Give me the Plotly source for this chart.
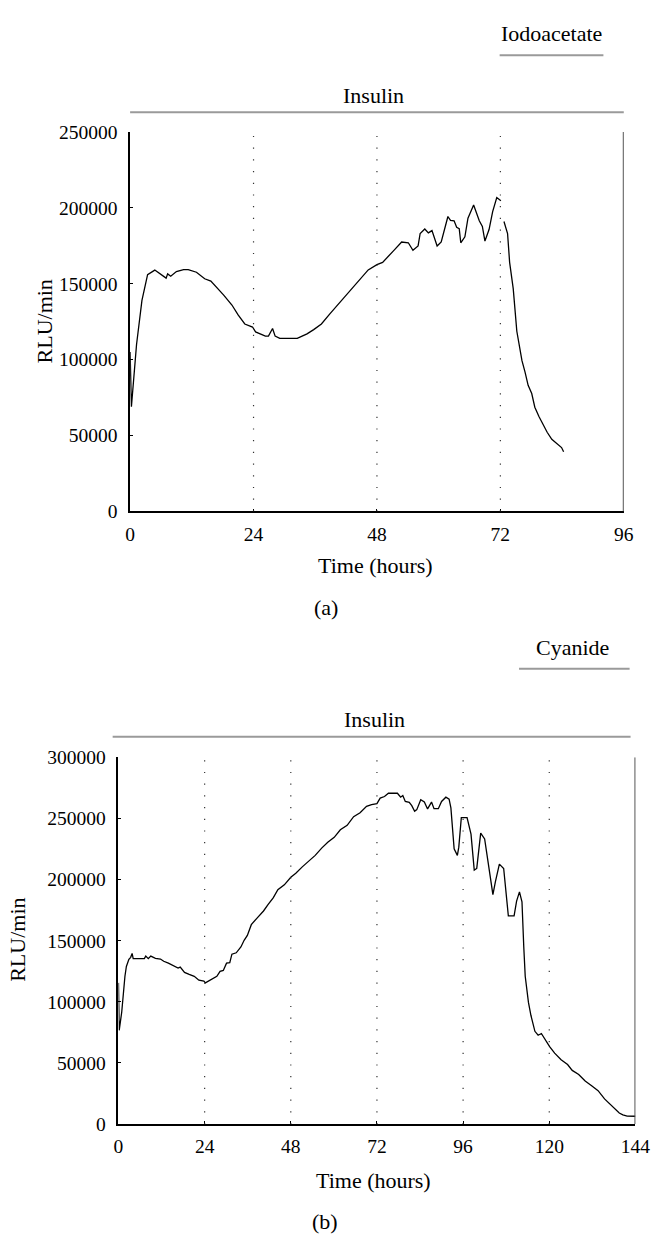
import plotly.graph_objects as go

# ---------------- Data ----------------
# Panel (a): insulin, then iodoacetate (trace interrupted at 72 h)
time_a_pre = [0, 0.25, 1.25, 2.3, 3.4, 4.8, 7.0, 7.3, 7.9, 9.0,
              10.4, 11.3, 12.9, 14.5, 15.7, 17.0, 18.2, 19.8, 21.0, 22.3,
              23.8, 24.4, 26.3, 26.9, 27.7, 28.2, 29.1, 32.5, 34.4, 35.7,
              37.2, 38.8, 40.6, 42.5, 44.4, 46.3, 48.0, 49.1, 51.3, 52.8,
              54.1, 55.0, 56.0, 56.4, 57.3, 58.0, 58.7, 59.7, 60.5, 61.8,
              62.3, 63.0, 63.5, 64.0, 64.3, 65.1, 65.7, 66.8, 67.9, 68.5,
              69.0, 69.8, 70.5, 71.3, 72.1]
rlu_a_pre = [105000, 69000, 110000, 139000, 156000, 159000, 153700, 156500, 155000, 158000,
             159300, 159300, 157600, 153300, 151800, 147200, 142500, 136000, 129500, 123500,
             121500, 118300, 115500, 115500, 120500, 115500, 114000, 114000, 117000, 119800,
             123500, 130000, 137000, 144200, 151100, 159100, 162600, 164100, 172000, 177500,
             177000, 172000, 174900, 183100, 186100, 183500, 185000, 174900, 177500, 194300,
             191700, 191500, 187200, 186300, 177000, 180900, 193200, 201900, 191500, 187800,
             178100, 185700, 197500, 206800, 204700]
time_a_post = [72.7, 73.4, 73.8, 74.5, 75.2, 76.2, 76.8, 77.4, 78.1, 78.7,
               79.5, 80.4, 81.1, 82.0, 82.9, 83.9, 84.3]
rlu_a_post = [191000, 183100, 164100, 146800, 118700, 99300, 91800, 83100, 77700, 68700,
              62600, 56100, 52200, 47500, 44900, 42100, 39300]

# Panel (b): insulin, then cyanide
time_b = [0, 0.2, 0.9, 1.1, 1.4, 1.8, 2.2, 2.9, 3.4, 3.8,
          4.1, 7.2, 7.6, 8.3, 9.0, 10.3, 11.7, 12.6, 13.9, 15.3,
          16.6, 17.2, 18.4, 19.7, 21.1, 22.4, 23.8, 24.2, 25.1, 26.5,
          27.4, 28.3, 29.2, 30.1, 31.0, 31.6, 32.8, 34.1, 35.0, 35.9,
          37.0, 38.6, 40.4, 41.7, 43.1, 44.4, 46.2, 48.0, 49.4, 51.2,
          53.0, 54.8, 56.6, 58.3, 60.1, 61.8, 63.7, 65.5, 67.3, 69.1,
          70.5, 72.0, 72.9, 74.1, 75.2, 77.7, 78.6, 79.2, 79.9, 81.0,
          81.7, 82.5, 83.1, 84.2, 85.2, 86.1, 87.2, 87.9, 89.1, 90.0,
          91.2, 92.1, 92.6, 93.5, 94.4, 94.8, 95.5, 97.1, 98.2, 99.1,
          99.8, 100.9, 102.0, 103.2, 104.3, 105.0, 106.1, 107.3, 108.2, 108.6,
          110.2, 110.9, 111.7, 112.4, 112.9, 113.3, 114.2, 114.9, 116.0, 116.9,
          117.8, 118.9, 120.1, 121.5, 123.3, 125.1, 126.4, 128.2, 130.0, 131.8,
          133.6, 135.4, 137.3, 138.4, 139.5, 140.5, 141.7, 144.0]
rlu_b = [115500, 76700, 91500, 100000, 107500, 120900, 128900, 134800, 136400, 139600,
         135300, 135300, 137400, 135300, 137400, 135600, 135000, 133200, 131600, 129400,
         127600, 128400, 124100, 122500, 120900, 117700, 116900, 115500, 116900, 119000,
         120900, 124900, 125700, 131600, 132100, 139000, 140100, 144900, 150300, 154300,
         163100, 168500, 174300, 179700, 185000, 191700, 195700, 201900, 205100, 210400,
         215300, 219800, 225700, 230500, 234500, 240700, 244400, 251400, 254600, 259900,
         261300, 262100, 266600, 267900, 270600, 270600, 267400, 268700, 263900, 263100,
         260400, 255900, 257200, 265300, 263400, 257800, 263400, 258000, 258000, 263900,
         267400, 265800, 258600, 225100, 219800, 226500, 250600, 250600, 237200, 207800,
         209100, 238000, 233200, 207800, 187700, 198400, 212600, 209100, 185000, 170300,
         170300, 182400, 189900, 181800, 144900, 120900, 99500, 88800, 75900, 72700,
         74100, 68700, 63400, 58000, 52700, 48700, 43900, 40600, 35300, 31300,
         27300, 20600, 15200, 12000, 9000, 7500, 6500, 6400]
assert len(time_b) == len(rlu_b)
assert len(time_a_pre) == len(rlu_a_pre) and len(time_a_post) == len(rlu_a_post)

ticks_x_a = [0, 24, 48, 72, 96]
ticks_y_a = [0, 50000, 100000, 150000, 200000, 250000]
ticks_x_b = [0, 24, 48, 72, 96, 120, 144]
ticks_y_b = [0, 50000, 100000, 150000, 200000, 250000, 300000]
dotted_a = [24, 48, 72]
dotted_b = [24, 48, 72, 96, 120]

# ---------------- Layout helpers ----------------
W, H = 664, 1258
FONT = "Liberation Serif"
FS_TICK = 19.5
FS_TEXT = 22


def px(x):
    return x / W


def py(y):
    return 1 - y / H


fig = go.Figure()
line_style = dict(color="black", width=1.3)
fig.add_trace(go.Scatter(x=time_a_pre, y=rlu_a_pre, mode="lines", line=line_style,
                         xaxis="x", yaxis="y", showlegend=False))
fig.add_trace(go.Scatter(x=time_a_post, y=rlu_a_post, mode="lines", line=line_style,
                         xaxis="x", yaxis="y", showlegend=False))
fig.add_trace(go.Scatter(x=time_b, y=rlu_b, mode="lines", line=line_style,
                         xaxis="x2", yaxis="y2", showlegend=False))

axis_common = dict(showgrid=False, zeroline=False, showline=True, linecolor="black",
                   linewidth=1.5, ticks="inside", ticklen=3, tickcolor="black",
                   tickfont=dict(family=FONT, size=FS_TICK, color="black"))

fig.update_layout(
    width=W, height=H,
    margin=dict(l=0, r=0, t=0, b=0),
    paper_bgcolor="white", plot_bgcolor="white",
    xaxis=dict(domain=[px(129), px(638)], range=[0, 96], tickvals=ticks_x_a,
               anchor="y", ticklabelstandoff=4, **axis_common),
    yaxis=dict(domain=[py(510), py(124)], range=[0, 250000], tickvals=ticks_y_a,
               ticktext=[str(v) for v in ticks_y_a], anchor="x",
               ticklabelstandoff=7, **axis_common),
    xaxis2=dict(domain=[px(117), px(650)], range=[0, 144], tickvals=ticks_x_b,
                anchor="y2", ticklabelstandoff=4, **axis_common),
    yaxis2=dict(domain=[py(1133), py(760)], range=[0, 300000], tickvals=ticks_y_b,
                ticktext=[str(v) for v in ticks_y_b], anchor="x2",
                ticklabelstandoff=7, **axis_common),
)

shapes = []
# dotted verticals
dot = dict(color="#333", width=1.2, dash="1.2px,10.5px")
for t in dotted_a:
    shapes.append(dict(type="line", xref="x", yref="y", x0=t, x1=t, y0=0, y1=250000,
                       line=dot))
for t in dotted_b:
    shapes.append(dict(type="line", xref="x2", yref="y2", x0=t, x1=t, y0=0, y1=300000,
                       line=dot))
# right borders
shapes.append(dict(type="line", xref="x", yref="y", x0=96, x1=96, y0=0, y1=250000,
                   line=dict(color="#555", width=2)))
shapes.append(dict(type="line", xref="x2", yref="y2", x0=144, x1=144, y0=0, y1=300000,
                   line=dict(color="#555", width=2)))
# treatment bars
bar = dict(color="#9a9a9a", width=2)
for x0, x1, yy in [(510, 617, 46), (129, 638, 104), (530, 644, 670), (111, 645, 739)]:
    shapes.append(dict(type="line", xref="paper", yref="paper", x0=px(x0), x1=px(x1),
                       y0=py(yy), y1=py(yy), line=bar))
fig.update_layout(shapes=shapes)

ann = []


def text(s, x, y, angle=0):
    ann.append(dict(text=s, xref="paper", yref="paper", x=px(x), y=py(y),
                    xanchor="center", yanchor="middle", showarrow=False, textangle=angle,
                    font=dict(family=FONT, size=FS_TEXT, color="black")))


text("Iodoacetate", 563, 24)
text("Insulin", 380, 87)
text("Time (hours)", 382, 565)
text("(a)", 331, 608)
text("RLU/min", 41, 317, -90)
text("Cyanide", 585, 648)
text("Insulin", 381, 722)
text("Time (hours)", 380, 1190)
text("(b)", 330, 1232)
text("RLU/min", 13, 946, -90)
fig.update_layout(annotations=ann)

fig.write_html("out.html", config={"displayModeBar": False},
               post_script="document.body.style.margin='0';")
